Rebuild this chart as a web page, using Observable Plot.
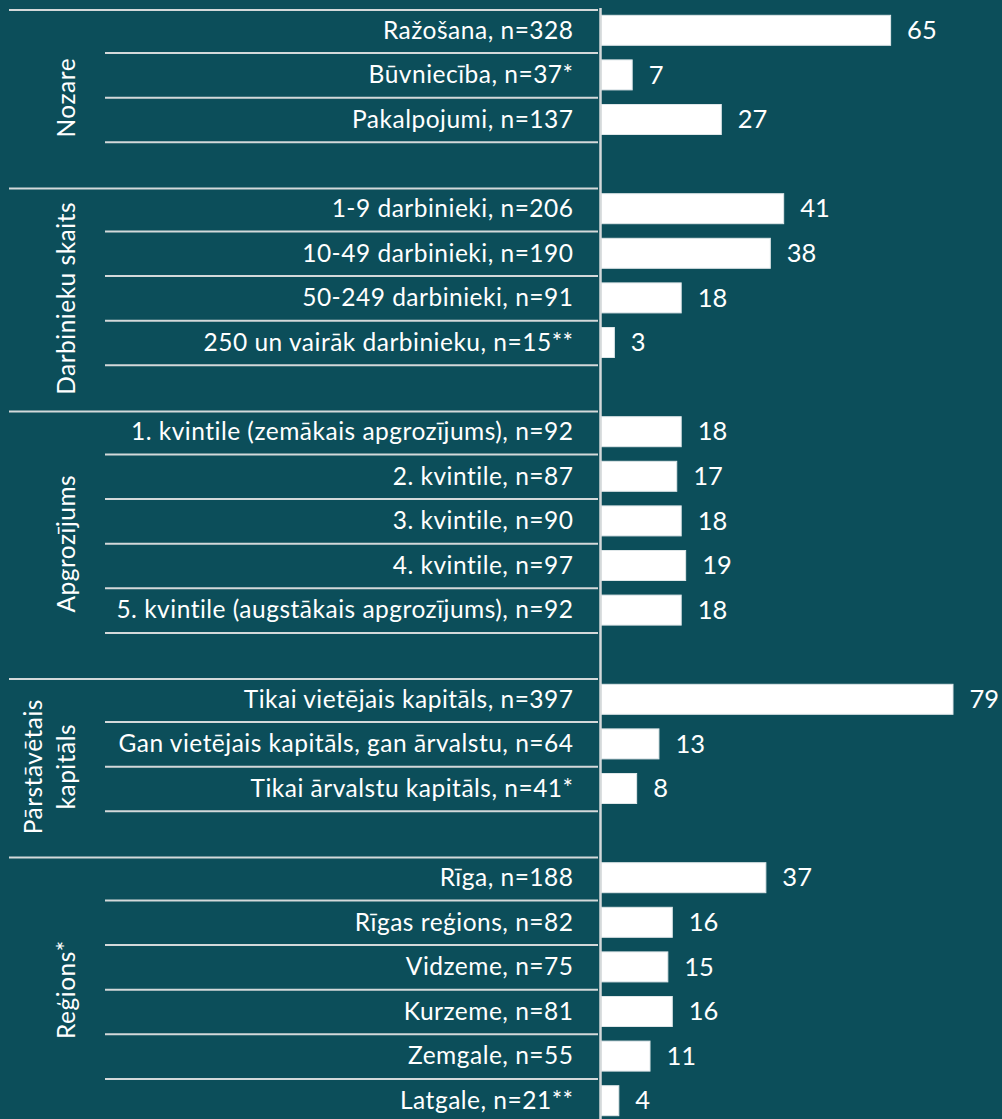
<!DOCTYPE html>
<html>
<head>
<meta charset="utf-8">
<script src="https://cdn.jsdelivr.net/npm/d3@7"></script>
<script src="https://cdn.jsdelivr.net/npm/@observablehq/plot@0.6"></script>
<style>
  html, body { margin: 0; padding: 0; background: #0c4e5a; overflow: hidden; }
  #chart svg { display: block; }
  #chart svg text { font-variant-ligatures: none; }
  #chart svg .lbl text { letter-spacing: 0.5px; }
</style>
</head>
<body>
<div id="chart"></div>
<script>
// ---- Data ----
const groupNames = ["Nozare", "Darbinieku skaits", "Apgrozījums", "Pārstāvētais\nkapitāls", "Reģions*"];

const categories = [
  "Ražošana, n=328",
  "Būvniecība, n=37*",
  "Pakalpojumi, n=137",
  "1-9 darbinieki, n=206",
  "10-49 darbinieki, n=190",
  "50-249 darbinieki, n=91",
  "250 un vairāk darbinieku, n=15**",
  "1. kvintile (zemākais apgrozījums), n=92",
  "2. kvintile, n=87",
  "3. kvintile, n=90",
  "4. kvintile, n=97",
  "5. kvintile (augstākais apgrozījums), n=92",
  "Tikai vietējais kapitāls, n=397",
  "Gan vietējais kapitāls, gan ārvalstu, n=64",
  "Tikai ārvalstu kapitāls, n=41*",
  "Rīga, n=188",
  "Rīgas reģions, n=82",
  "Vidzeme, n=75",
  "Kurzeme, n=81",
  "Zemgale, n=55",
  "Latgale, n=21**"
];

const categoryGroups = [
  "Nozare", "Nozare", "Nozare",
  "Darbinieku skaits", "Darbinieku skaits", "Darbinieku skaits", "Darbinieku skaits",
  "Apgrozījums", "Apgrozījums", "Apgrozījums", "Apgrozījums", "Apgrozījums",
  "Pārstāvētais\nkapitāls", "Pārstāvētais\nkapitāls", "Pārstāvētais\nkapitāls",
  "Reģions*", "Reģions*", "Reģions*", "Reģions*", "Reģions*", "Reģions*"
];

const values = [65, 7, 27, 41, 38, 18, 3, 18, 17, 18, 19, 18, 79, 13, 8, 37, 16, 15, 16, 11, 4];

// ---- Build row table (items + a spacer row after each group except the last) ----
const rows = [];
const groupRanges = [];
groupNames.forEach((g, gi) => {
  const start = rows.length;
  categories.forEach((c, i) => {
    if (categoryGroups[i] !== g) return;
    const first = rows.length === start;
    rows.push({key: c, label: c, value: values[i], group: g, first, spacer: false});
  });
  if (gi < groupNames.length - 1) {
    rows.push({key: "spacer-" + gi, label: "", value: null, group: g, first: false, spacer: true});
  }
  groupRanges.push({group: g, start, n: rows.length - start});
});
const items = rows.filter(d => !d.spacer);

// ---- Layout ----
const W = 1002, H = 1119;
const marginTop = 8, marginBottom = -4, marginLeft = 601, marginRight = 0;
const step = (H - marginTop - marginBottom) / rows.length;

const bg = "#0c4e5a";
const lineColor = "#d4d9da";
const font = "Lato, 'Open Sans', sans-serif";
const labelSize = 24.5;

// group label marks
const groupMarks = groupRanges.map(({group, start, n}) => {
  const even = n % 2 === 0;
  const anchor = even ? rows[start + n / 2] : rows[start + (n - 1) / 2];
  const multi = group.includes("\n");
  return Plot.text([anchor], {
    y: "key",
    text: () => group,
    frameAnchor: "left",
    dx: 74 - marginLeft,
    dy: even ? -step / 2 : 0,
    rotate: -90,
    textAnchor: "middle",
    lineAnchor: "bottom",
    lineHeight: multi ? 1.32 : 1,
    fill: "white",
    fontSize: labelSize,
    className: "lbl"
  });
});

const chart = Plot.plot({
  width: W,
  height: H,
  marginTop, marginBottom, marginLeft, marginRight,
  style: {background: bg, fontFamily: font, color: "white"},
  x: {domain: [0, 90], axis: null},
  y: {domain: rows.map(d => d.key), type: "band", padding: 0, round: false, axis: null},
  marks: [
    // row separators (short)
    Plot.ruleY(rows.filter(d => !d.first), {
      y: "key", dy: -step / 2, stroke: lineColor, strokeWidth: 2,
      insetLeft: -(marginLeft - 105), insetRight: W - 598
    }),
    // group separators (long)
    Plot.ruleY(rows.filter(d => d.first), {
      y: "key", dy: -step / 2 + 1.5, stroke: lineColor, strokeWidth: 2,
      insetLeft: -(marginLeft - 9), insetRight: W - 598
    }),
    // bars
    Plot.barX(items, {
      x: "value", y: "key", fill: "white", stroke: "#dfe7e9", strokeWidth: 1,
      insetTop: (step - 30) / 2, insetBottom: (step - 30) / 2
    }),
    // axis line
    Plot.ruleX([0], {dx: -1, stroke: lineColor, strokeWidth: 2.5}),
    // category labels
    Plot.text(items, {
      y: "key", text: "label", frameAnchor: "left", dx: -28,
      textAnchor: "end", fill: "white", fontSize: labelSize, className: "lbl"
    }),
    // value labels
    Plot.text(items, {
      x: "value", y: "key", text: d => String(d.value), dx: 16,
      textAnchor: "start", fill: "white", fontSize: 25.5
    }),
    ...groupMarks
  ]
});

document.getElementById("chart").appendChild(chart);
</script>
</body>
</html>
